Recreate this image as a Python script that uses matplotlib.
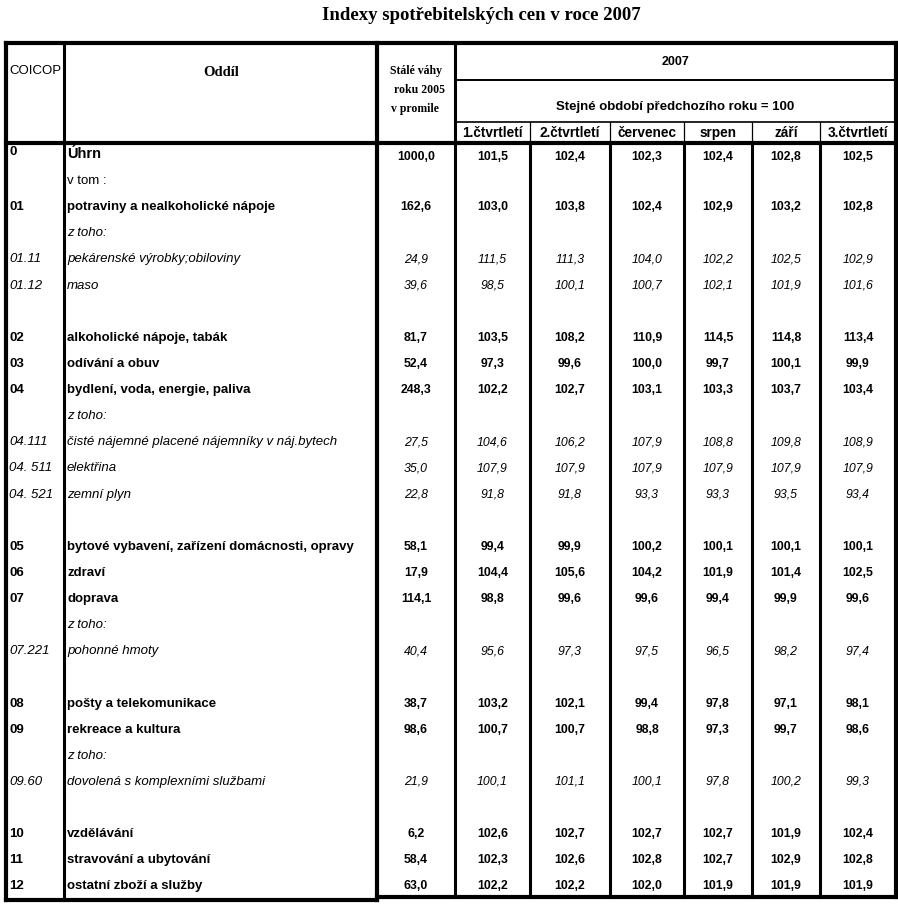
import matplotlib
matplotlib.use("Agg")
import matplotlib.pyplot as plt

# table content, one entry per row
codes = ["0", "", "01", "", "01.11", "01.12", "",
         "02", "03", "04", "", "04.111", "04. 511", "04. 521", "",
         "05", "06", "07", "", "07.221", "",
         "08", "09", "", "09.60", "",
         "10", "11", "12"]
names = ["Úhrn", "v tom :", "potraviny a nealkoholické nápoje", "z toho:",
         "pekárenské výrobky;obiloviny", "maso", "",
         "alkoholické nápoje, tabák", "odívání a obuv", "bydlení, voda, energie, paliva",
         "z toho:", "čisté nájemné placené nájemníky v náj.bytech", "elektřina", "zemní plyn", "",
         "bytové vybavení, zařízení domácnosti, opravy", "zdraví", "doprava", "z toho:",
         "pohonné hmoty", "",
         "pošty a telekomunikace", "rekreace a kultura", "z toho:",
         "dovolená s komplexními službami", "",
         "vzdělávání", "stravování a ubytování", "ostatní zboží a služby"]
# main = bold group, sub = italic item, vtom / ztoho = notes, blank = empty row
kinds = ["main", "vtom", "main", "ztoho", "sub", "sub", "blank",
         "main", "main", "main", "ztoho", "sub", "sub", "sub", "blank",
         "main", "main", "main", "ztoho", "sub", "blank",
         "main", "main", "ztoho", "sub", "blank",
         "main", "main", "main"]
weights = [1000.0, None, 162.6, None, 24.9, 39.6, None,
           81.7, 52.4, 248.3, None, 27.5, 35.0, 22.8, None,
           58.1, 17.9, 114.1, None, 40.4, None,
           38.7, 98.6, None, 21.9, None,
           6.2, 58.4, 63.0]
q1 = [101.5, None, 103.0, None, 111.5, 98.5, None,
      103.5, 97.3, 102.2, None, 104.6, 107.9, 91.8, None,
      99.4, 104.4, 98.8, None, 95.6, None,
      103.2, 100.7, None, 100.1, None,
      102.6, 102.3, 102.2]
q2 = [102.4, None, 103.8, None, 111.3, 100.1, None,
      108.2, 99.6, 102.7, None, 106.2, 107.9, 91.8, None,
      99.9, 105.6, 99.6, None, 97.3, None,
      102.1, 100.7, None, 101.1, None,
      102.7, 102.6, 102.2]
jul = [102.3, None, 102.4, None, 104.0, 100.7, None,
       110.9, 100.0, 103.1, None, 107.9, 107.9, 93.3, None,
       100.2, 104.2, 99.6, None, 97.5, None,
       99.4, 98.8, None, 100.1, None,
       102.7, 102.8, 102.0]
aug = [102.4, None, 102.9, None, 102.2, 102.1, None,
       114.5, 99.7, 103.3, None, 108.8, 107.9, 93.3, None,
       100.1, 101.9, 99.4, None, 96.5, None,
       97.8, 97.3, None, 97.8, None,
       102.7, 102.7, 101.9]
sep = [102.8, None, 103.2, None, 102.5, 101.9, None,
       114.8, 100.1, 103.7, None, 109.8, 107.9, 93.5, None,
       100.1, 101.4, 99.9, None, 98.2, None,
       97.1, 99.7, None, 100.2, None,
       101.9, 102.9, 101.9]
q3 = [102.5, None, 102.8, None, 102.9, 101.6, None,
      113.4, 99.9, 103.4, None, 108.9, 107.9, 93.4, None,
      100.1, 102.5, 99.6, None, 97.4, None,
      98.1, 98.6, None, 99.3, None,
      102.4, 102.8, 101.9]
periods = ["1.čtvrtletí", "2.čtvrtletí", "červenec", "srpen", "září", "3.čtvrtletí"]

title = "Indexy spotřebitelských cen v roce 2007"

SANS = "Liberation Sans"
SERIF = "Liberation Serif"

# layout in pixels
xs = [6, 64, 377, 455, 530, 610, 684, 752, 820, 896]
y_top, y_h1, y_h2, y_head = 43, 80, 122, 143
row0, row_h = 155, 26.12
y_bot = 900


def fmt(v):
    return ("%.1f" % v).replace(".", ",")


fig = plt.figure(figsize=(8.98, 9.18), dpi=100)
ax = fig.add_axes([0, 0, 1, 1])
ax.set_xlim(0, 898)
ax.set_ylim(918, 0)
ax.axis("off")

ax.text(481, 15, title, ha="center", va="center", fontsize=13.5,
        fontweight="bold", family=SERIF)

# grid lines
thick, mid, thin = 3.0, 2.2, 1.2
ax.plot([xs[0], xs[-1]], [y_top, y_top], color="black", lw=thick, solid_capstyle="projecting")
ax.plot([xs[0], xs[-1]], [y_head, y_head], color="black", lw=thick)
ax.plot([xs[3], xs[-1]], [y_h1, y_h1], color="black", lw=1.4)
ax.plot([xs[3], xs[-1]], [y_h2, y_h2], color="black", lw=thin)
ax.plot([xs[0], xs[2]], [y_bot, y_bot], color="black", lw=thick, solid_capstyle="projecting")
ax.plot([xs[2], xs[-1]], [y_bot - 3, y_bot - 3], color="black", lw=thick, solid_capstyle="projecting")
for i, x in enumerate(xs):
    lw = thick if i in (0, 2, len(xs) - 1) else mid
    if 4 <= i <= 8:
        ax.plot([x, x], [y_h2, y_head], color="black", lw=0.9)
        ax.plot([x, x], [y_head, y_bot - 3], color="black", lw=lw)
    else:
        ax.plot([x, x], [y_top, y_bot if i < 3 else y_bot - 3], color="black", lw=lw)

# header
ax.text(9, 71, "COICOP", ha="left", va="center", fontsize=9.5, family=SANS)
ax.text(221, 72, "Oddíl", ha="center", va="center", fontsize=10.5,
        fontweight="bold", family=SERIF)
for txt, yy, xx in [("Stálé váhy", 71, 416), ("roku 2005", 90, 420), ("v promile", 109, 415)]:
    ax.text(xx, yy, txt, ha="center", va="center", fontsize=8.5,
            fontweight="bold", family=SERIF)
ax.text((xs[3] + xs[-1]) / 2, 62, "2007", ha="center", va="center",
        fontsize=9, fontweight="bold", family=SANS)
ax.text((xs[3] + xs[-1]) / 2, 107, "Stejné období předchozího roku = 100",
        ha="center", va="center", fontsize=9.5, fontweight="bold", family=SANS)
for j, p in enumerate(periods):
    cx = (xs[3 + j] + xs[4 + j]) / 2
    ax.text(cx, 133, p, ha="center", va="center", fontsize=9.8,
            fontweight="bold", family=SANS)

# body
value_cols = [weights, q1, q2, jul, aug, sep, q3]
for r in range(len(codes)):
    y = row0 + r * row_h
    kind = kinds[r]
    if kind == "blank":
        continue
    if kind == "main":
        style, weight = "normal", "bold"
    elif kind in ("sub", "ztoho"):
        style, weight = "italic", "normal"
    else:
        style, weight = "normal", "normal"
    name_size = 10.5 if r == 0 else 9.5
    if codes[r]:
        ax.text(9, y - (3 if r == 0 else 0), codes[r], ha="left", va="center",
                fontsize=9.5, fontweight=weight, fontstyle=style, family=SANS)
    ax.text(67, y - (1 if r == 0 else 0), names[r], ha="left", va="center",
            fontsize=name_size, fontweight=weight, fontstyle=style, family=SANS)
    for c, col in enumerate(value_cols):
        v = col[r]
        if v is None:
            continue
        cx = (xs[2 + c] + xs[3 + c]) / 2
        ax.text(cx, y + (1.5 if r == 0 else 0), fmt(v), ha="center", va="center",
                fontsize=8.8, fontweight=weight, fontstyle=style, family=SANS)

fig.savefig("out.png", dpi=100)
